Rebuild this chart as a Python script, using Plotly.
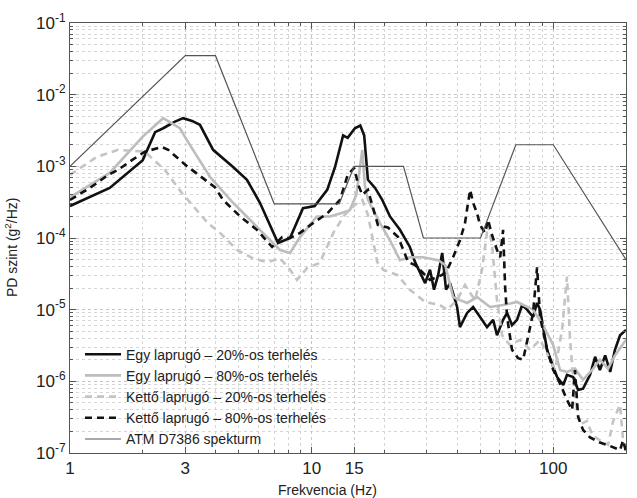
import plotly.graph_objects as go
import numpy as np

# ---------------- data ----------------
atm_f = [1, 3, 4, 7, 13, 15, 24, 29, 50, 70, 100, 200]
atm_v = [1e-3, 3.5e-2, 3.5e-2, 3e-4, 3e-4, 1e-3, 1e-3, 1e-4, 1e-4, 2e-3, 2e-3, 5e-5]

egy20_f = [1.0, 1.46, 2.0, 2.25, 2.43, 2.72, 2.94, 3.2, 3.45, 3.91,
           4.73, 5.4, 6.11, 6.92, 7.26, 8.14, 9.21, 10.3, 11.6, 12.5,
           13.5, 14.1, 15.1, 15.9, 16.5, 17.1, 18.3, 19.6, 21.1, 23.2,
           25.5, 26.8, 28.1, 29.5, 30.9, 32.1, 33.4, 34.7, 36.0, 37.4,
           40.0, 41.1, 44.0, 46.6, 49.8, 53.2, 56.4, 58.5, 62.0, 64.4,
           67.5, 70.8, 74.3, 77.9, 82.5, 85.7, 88.2, 94.3, 100, 103.7,
           110, 114, 120.8, 126.7, 132.8, 142, 149, 156, 164, 172,
           180, 189, 200]
egy20_v = [2.8e-4, 5.0e-4, 1.22e-3, 3.0e-3, 3.4e-3, 4.2e-3, 4.7e-3, 4.3e-3, 3.8e-3, 1.7e-3,
           9.8e-4, 6.5e-4, 3.1e-4, 1.18e-4, 8.5e-5, 1.0e-4, 2.6e-4, 2.8e-4, 4.7e-4, 9.8e-4,
           2.7e-3, 2.5e-3, 3.4e-3, 3.7e-3, 2.7e-3, 6.5e-4, 5.0e-4, 3.4e-4, 2.0e-4, 1.3e-4,
           7.5e-5, 4.6e-5, 3.3e-5, 2.35e-5, 3.6e-5, 1.9e-5, 3.05e-5, 6.2e-5, 1.9e-5, 2.35e-5,
           1.09e-5, 5.7e-6, 9e-6, 1.09e-5, 7.9e-6, 5.7e-6, 7.2e-6, 4.4e-6, 7.2e-6, 9e-6,
           6.1e-6, 7.2e-6, 1.16e-5, 1.0e-5, 7.9e-6, 1.24e-5, 1.0e-5, 2.75e-6, 1.6e-6, 1.15e-6,
           8.9e-7, 1.23e-6, 1.15e-6, 7.6e-7, 7.9e-7, 1.23e-6, 2.2e-6, 1.44e-6, 2.3e-6, 1.35e-6,
           2.75e-6, 4.4e-6, 5.2e-6]

egy80_f = [1.0, 1.46, 2.0, 2.43, 2.85, 3.05, 3.8, 4.73, 6.11, 7.4,
           8.14, 8.95, 10.5, 11.9, 13.1, 14.4, 15.3, 16.2, 16.6, 17.1,
           19.2, 21.1, 23.2, 25.5, 28.9, 33.4, 35.7, 38.5, 41.1, 44.0,
           48.4, 54.7, 62.0, 70.8, 82.5, 90.7, 100, 106.7, 114, 123,
           132.8, 144.8, 156, 168.6, 180, 200]
egy80_v = [3.7e-4, 8.1e-4, 2.6e-3, 4.7e-3, 3.4e-3, 2.3e-3, 7.1e-4, 3.1e-4, 1.3e-4, 6.8e-5,
           6.2e-5, 1.03e-4, 2.0e-4, 2.0e-4, 2.2e-4, 2.45e-4, 4.0e-4, 1.7e-3, 5.5e-4, 3.4e-4,
           1.6e-4, 9.3e-5, 4.9e-5, 5.4e-5, 5.4e-5, 4.9e-5, 4.2e-5, 1.5e-5, 1.36e-5, 1.24e-5,
           1.5e-5, 1.09e-5, 1.16e-5, 1.28e-5, 1.0e-5, 6.1e-6, 3.2e-6, 1.44e-6, 1.35e-6, 1.5e-6,
           1.05e-6, 1.44e-6, 2.0e-6, 1.5e-6, 2.3e-6, 3.8e-6]

ketto20_f = [1.0, 1.29, 1.58, 2.04, 2.47, 2.91, 3.73, 4.18, 4.91, 5.72,
             6.54, 7.4, 8.14, 8.7, 9.57, 10.8, 12.3, 13.7, 15.1, 16.2,
             17.1, 18.7, 19.8, 22.6, 25.5, 29.5, 34.0, 36.4, 40.0, 43.1,
             47.5, 50.7, 53.7, 55.8, 58.5, 61.4, 66.2, 72.9, 80.2, 88.2,
             95.1, 101.7, 108.7, 114, 117.4, 123, 129, 138, 144.8, 156,
             168.6, 177, 189, 194.5, 200]
ketto20_v = [7.6e-4, 1.35e-3, 1.7e-3, 1.6e-3, 8.9e-4, 4.2e-4, 1.6e-4, 1.18e-4, 6.8e-5, 5.2e-5,
             4.6e-5, 5.2e-5, 3.6e-5, 2.6e-5, 3.8e-5, 4.5e-5, 1.18e-4, 2.1e-4, 2.9e-4, 3.4e-4,
             2.1e-4, 4.6e-5, 3.6e-5, 3.05e-5, 1.9e-5, 1.28e-5, 1.16e-5, 1.0e-5, 1.36e-5, 2.2e-5,
             1.36e-5, 3.6e-5, 1.52e-4, 8.0e-5, 1.36e-5, 4.4e-6, 3.2e-6, 3.8e-6, 2.75e-6, 3.8e-6,
             2.3e-6, 1.44e-6, 5.2e-6, 2.9e-5, 3.8e-6, 5.5e-7, 2.5e-7, 2.8e-7, 1.8e-7, 1.5e-7,
             1.3e-7, 2.8e-7, 4.7e-7, 1.5e-7, 1.1e-7]

ketto80_f = [1.0, 1.21, 1.44, 1.58, 1.81, 2.04, 2.4, 2.55, 3.0, 3.62,
             3.98, 4.3, 5.06, 5.94, 6.86, 7.55, 8.14, 8.95, 10.1, 11.6,
             13.1, 14.1, 15.0, 15.6, 16.2, 17.1, 18.8, 20.7, 22.8, 25.1,
             26.8, 30.9, 34.7, 36.4, 38.5, 41.1, 43.1, 44.4, 45.3, 46.6,
             48.4, 49.8, 52.2, 53.7, 55.8, 58.5, 60.3, 62.0, 63.2, 64.4,
             67.5, 71.5, 75.0, 78.7, 82.5, 85.7, 88.2, 94.3, 100, 106.7,
             114, 119.7, 123, 126.7, 132.8, 142, 156, 172, 189, 194.5,
             200]
ketto80_v = [3.4e-4, 5.0e-4, 7.6e-4, 8.9e-4, 1.23e-3, 1.6e-3, 1.86e-3, 1.7e-3, 1.05e-3, 6.5e-4,
             5.1e-4, 3.4e-4, 2.0e-4, 1.3e-4, 7.5e-5, 1.03e-4, 1.0e-4, 1.18e-4, 1.6e-4, 2.2e-4,
             3.4e-4, 7.6e-4, 9.5e-4, 5.5e-4, 4.0e-4, 4.7e-4, 1.52e-4, 1.4e-4, 1.03e-4, 4.6e-5,
             4.2e-5, 2.6e-5, 3.05e-5, 3.6e-5, 5.4e-5, 9.3e-5, 1.6e-4, 3.1e-4, 4.7e-4, 3.1e-4,
             2.2e-4, 1.52e-4, 1.18e-4, 1.8e-4, 1.1e-4, 6.8e-5, 5.4e-5, 1.3e-4, 2.1e-5, 7.9e-6,
             2.75e-6, 2.1e-6, 2.0e-6, 4.2e-6, 9e-6, 3.9e-5, 7.9e-6, 2.75e-6, 1.44e-6, 9.3e-7,
             5.5e-7, 4.0e-7, 1.44e-6, 3.2e-7, 2.1e-7, 1.65e-7, 1.4e-7, 1.25e-7, 1.1e-7, 1.5e-7,
             1.05e-7]

names = ["Egy laprugó – 20%-os terhelés",
         "Egy laprugó – 80%-os terhelés",
         "Kettő laprugó – 20%-os terhelés",
         "Kettő laprugó – 80%-os terhelés",
         "ATM D7386 spekturm"]

x_ticks = [1, 3, 10, 15, 100, 200]
x_ticktext = ["1", "3", "10", "15", "100", "200"]
y_exps = [-7, -6, -5, -4, -3, -2, -1]

# ---------------- figure ----------------
FONT = "Liberation Sans, Arial, sans-serif"
DASH = "7px,5px"

fig = go.Figure()
fig.add_trace(go.Scatter(x=egy20_f, y=egy20_v, mode="lines", name=names[0],
                         line=dict(color="#111111", width=2.6)))
fig.add_trace(go.Scatter(x=egy80_f, y=egy80_v, mode="lines", name=names[1],
                         line=dict(color="#bdbdbd", width=2.6)))
fig.add_trace(go.Scatter(x=ketto20_f, y=ketto20_v, mode="lines", name=names[2],
                         line=dict(color="#c4c4c4", width=2.6, dash=DASH)))
fig.add_trace(go.Scatter(x=ketto80_f, y=ketto80_v, mode="lines", name=names[3],
                         line=dict(color="#111111", width=2.6, dash=DASH)))
fig.add_trace(go.Scatter(x=atm_f, y=atm_v, mode="lines", name=names[4],
                         line=dict(color="#555555", width=1.2)))

x_minor = [m * d for d in (1, 10, 100) for m in range(2, 10) if m * d < 200 and m * d not in x_ticks]
y_major = [10.0 ** e for e in y_exps]
y_minor = [m * 10.0 ** e for e in y_exps[:-1] for m in range(2, 10)]

common = dict(showline=True, linecolor="#555555", linewidth=1, mirror="allticks",
              ticks="inside", ticklen=6, tickcolor="#555555",
              showgrid=True, gridcolor="#c6c6c6", griddash="dot", gridwidth=1,
              zeroline=False, tickfont=dict(family=FONT, size=17, color="#222222"))

fig.update_xaxes(type="log", range=[0, np.log10(200)], tickmode="array",
                 tickvals=x_ticks, ticktext=x_ticktext,
                 minor=dict(tickvals=x_minor, ticks="inside", ticklen=3, tickcolor="#555555",
                            showgrid=True, gridcolor="#d6d6d6", griddash="dot", gridwidth=1),
                 **common)
fig.update_yaxes(type="log", range=[-7, -1], tickmode="array",
                 tickvals=y_major, ticktext=[f"10<sup>{e}</sup>" for e in y_exps],
                 minor=dict(tickvals=y_minor, ticks="inside", ticklen=3, tickcolor="#555555",
                            showgrid=True, gridcolor="#d6d6d6", griddash="dot", gridwidth=1),
                 **common)

fig.add_annotation(text="Frekvencia (Hz)", xref="paper", yref="paper",
                   x=0.464, y=-0.086, xanchor="center", yanchor="middle",
                   showarrow=False, font=dict(family=FONT, size=14, color="#222222"))
fig.add_annotation(text="PD szint (g<sup>2</sup>/Hz)", xref="paper", yref="paper",
                   x=-0.106, y=0.479, xanchor="center", yanchor="middle", textangle=-90,
                   showarrow=False, font=dict(family=FONT, size=14, color="#222222"))

# white legend box hiding the grid
fig.add_shape(type="rect", xref="paper", yref="paper", x0=0.002, x1=0.579, y0=0.002, y1=0.27,
              fillcolor="white", line=dict(width=0), layer="between")

fig.update_layout(
    width=637, height=498,
    margin=dict(l=70, r=11, t=23, b=45),
    paper_bgcolor="white", plot_bgcolor="white",
    font=dict(family=FONT, color="#222222"),
    legend=dict(x=0.018, y=0.266, xanchor="left", yanchor="top",
                bgcolor="rgba(0,0,0,0)", borderwidth=0,
                font=dict(family=FONT, size=14, color="#222222"),
                tracegroupgap=0, itemwidth=36),
    showlegend=True,
)

fig.write_html("out.html")
